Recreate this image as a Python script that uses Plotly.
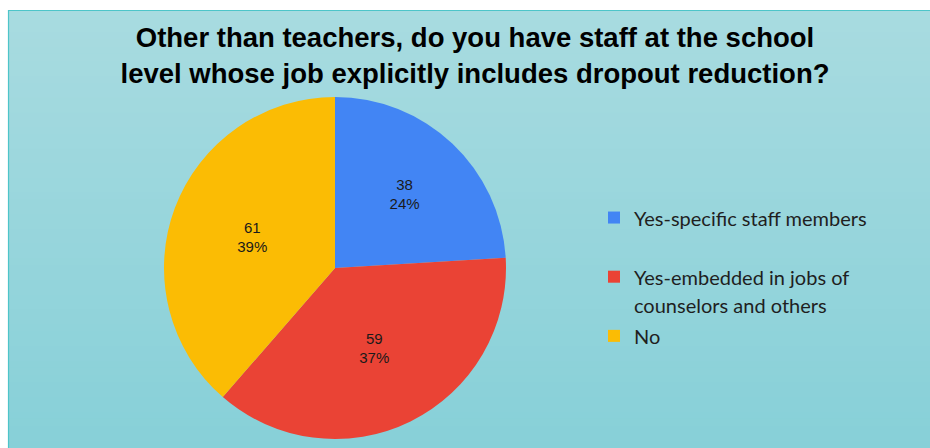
import plotly.graph_objects as go

# Survey responses
labels = ["Yes-specific staff members",
          "Yes-embedded in jobs of counselors and others",
          "No"]
legend_lines = [["Yes-specific staff members"],
                ["Yes-embedded in jobs of", "counselors and others"],
                ["No"]]
counts = [38, 59, 61]
colors = ["#4285F4", "#EA4335", "#FBBC04"]

title_text = ("Other than teachers, do you have staff at the school<br>"
              "level whose job explicitly includes dropout reduction?")

W, H = 930, 448


def legend_label(lines):
    # every entry gets two rows so the entries are evenly spaced
    rows = list(lines) + [" "] * (2 - len(lines))
    return "<br>".join('<span style="font-size:20px">%s</span>' % r for r in rows)


fig = go.Figure()
fig.add_trace(go.Pie(
    labels=[legend_label(l) for l in legend_lines],
    values=counts,
    customdata=labels,
    sort=False,
    direction="clockwise",
    rotation=0,
    marker=dict(colors=colors, line=dict(width=0)),
    texttemplate="%{value}<br>%{percent:.0%}",
    textposition="inside",
    insidetextorientation="horizontal",
    textfont=dict(family="Liberation Sans, Arial, sans-serif", size=15, color="#1a1a1a"),
    hovertemplate="%{customdata}: %{value} (%{percent})<extra></extra>",
    domain=dict(x=[(335 - 171) / W, (335 + 171) / W],
                y=[(180 - 171) / H, (180 + 171) / H]),
))

# teal panel with a vertical gradient
shapes = []
top_rgb = (168, 219, 224)
bot_rgb = (135, 208, 216)
n = 60
y_top, y_bot = 1 - 10 / H, 0.0
for i in range(n):
    t = i / (n - 1)
    c = tuple(round(a + (b - a) * t) for a, b in zip(top_rgb, bot_rgb))
    y1 = y_top - (y_top - y_bot) * i / n
    y0 = y_top - (y_top - y_bot) * (i + 1) / n - 0.002
    shapes.append(dict(type="rect", xref="paper", yref="paper",
                       x0=8 / W, x1=1.01, y0=max(y0, -0.01), y1=y1,
                       fillcolor="rgb(%d,%d,%d)" % c, line=dict(width=0),
                       layer="below"))
shapes.append(dict(type="rect", xref="paper", yref="paper",
                   x0=8.5 / W, x1=1.05, y0=-0.05, y1=1 - 10.5 / H,
                   fillcolor="rgba(0,0,0,0)",
                   line=dict(color="#4EC5C9", width=1.2), layer="below"))

fig.update_layout(
    width=W, height=H,
    margin=dict(l=0, r=0, t=0, b=0),
    paper_bgcolor="white",
    plot_bgcolor="rgba(0,0,0,0)",
    shapes=shapes,
    title=dict(text="<b>" + title_text + "</b>",
               x=475 / W, xanchor="center",
               y=1 - 47 / H, yanchor="middle",
               font=dict(family="Liberation Sans, Arial, sans-serif", size=27.5, color="#000000")),
    showlegend=True,
    legend=dict(x=594 / W, xanchor="left", y=1 - 197 / H, yanchor="top",
                valign="top", bgcolor="rgba(0,0,0,0)",
                font=dict(family="Lato, Calibri, sans-serif", size=21.6, color="#1f1f1f")),
)

fig.write_html("out.html")
